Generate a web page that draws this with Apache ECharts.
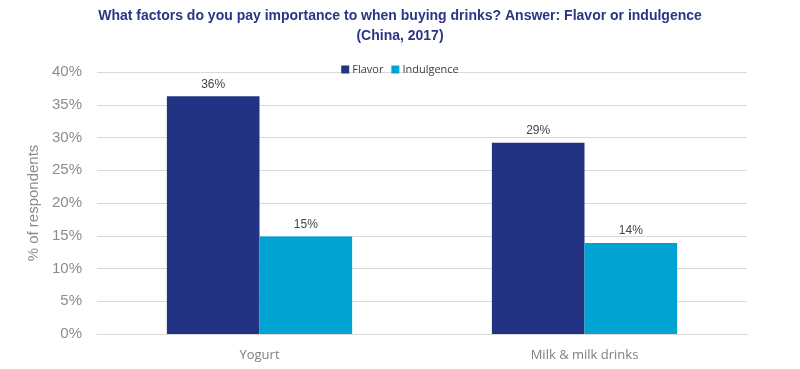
<!DOCTYPE html>
<html><head><meta charset="utf-8">
<script src="https://cdn.jsdelivr.net/npm/echarts@6/dist/echarts.min.js"></script>
<style>html,body{margin:0;padding:0;background:#fff}#c{width:800px;height:369px}</style>
</head><body><div id="c"></div>
<script>
const categories = ["Yogurt", "Milk & milk drinks"];
const flavor = [36.3, 29.2];
const indulgence = [14.9, 13.9];
const yTicks = [0, 5, 10, 15, 20, 25, 30, 35, 40];
const titleText = "What factors do you pay importance to when buying drinks? Answer: Flavor or indulgence\n(China, 2017)";

const chart = echarts.init(document.getElementById('c'), null, {renderer: 'canvas'});
const labelCfg = {
  show: true, position: 'top', distance: 6,
  color: '#454545', fontSize: 12, fontFamily: 'Liberation Sans, Arial, sans-serif',
  formatter: p => Math.round(p.value) + '%'
};
chart.setOption({
  animation: false,
  title: {
    text: titleText, left: 'center', top: 1,
    textStyle: {color: '#2b3585', fontSize: 14, fontWeight: 'bold', lineHeight: 20,
      fontFamily: 'Liberation Sans Narrow, Arial Narrow, Liberation Sans, sans-serif'}
  },
  legend: {
    top: 59, left: 'center', itemWidth: 8, itemHeight: 8, itemGap: 8,
    icon: 'rect',
    textStyle: {color: '#404040', fontSize: 11, fontFamily: 'Open Sans, sans-serif', padding: [0,0,0,-2]},
    data: ['Flavor', 'Indulgence']
  },
  grid: {left: 97, right: 53, top: 72, bottom: 35},
  xAxis: {
    type: 'category', data: categories,
    axisLine: {lineStyle: {color: '#d9d9d9'}},
    axisTick: {show: false},
    axisLabel: {color: '#7f7f7f', fontSize: 13, margin: 15, fontFamily: 'Open Sans, sans-serif'}
  },
  yAxis: {
    type: 'value', min: yTicks[0], max: yTicks[yTicks.length-1], interval: 5,
    name: '% of respondents', nameLocation: 'middle', nameGap: 53,
    nameTextStyle: {color: '#8c8c8c', fontSize: 15, fontFamily: 'Liberation Sans, Arial, sans-serif'},
    axisLine: {show: false}, axisTick: {show: false},
    axisLabel: {color: '#8c8c8c', fontSize: 15, margin: 15, formatter: v => v + '%',
      fontFamily: 'Liberation Sans, Arial, sans-serif'},
    splitLine: {lineStyle: {color: '#d9d9d9'}}
  },
  series: [
    {name: 'Flavor', type: 'bar', data: flavor, barGap: '0%', barCategoryGap: '43%',
      itemStyle: {color: '#233384'}, label: labelCfg},
    {name: 'Indulgence', type: 'bar', data: indulgence, barGap: '0%', barCategoryGap: '43%',
      itemStyle: {color: '#00a4d4'}, label: labelCfg}
  ]
});
</script></body></html>
